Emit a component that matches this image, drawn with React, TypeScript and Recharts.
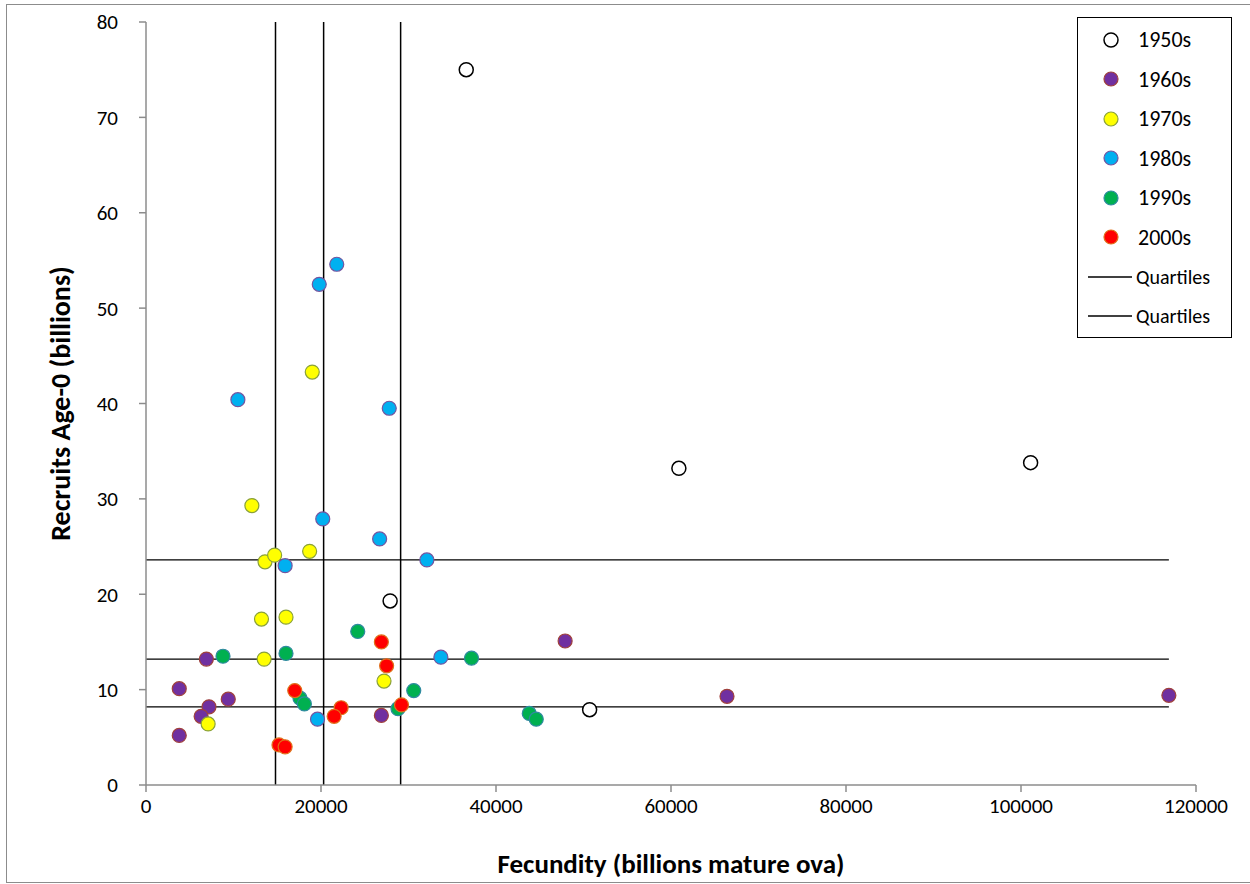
import React from "react";
import {
  ScatterChart,
  Scatter,
  XAxis,
  YAxis,
  ReferenceLine,
} from "recharts";

// fecundity (billions mature ova) vs recruits age-0 (billions), by decade
const fec1950s = [36600, 60900, 101100, 27900, 50700];
const rec1950s = [75.0, 33.2, 33.8, 19.3, 7.9];

const fec1960s = [6900, 3800, 9400, 7200, 6300, 3800, 26900, 47900, 66400, 116900];
const rec1960s = [13.2, 10.1, 9.0, 8.2, 7.2, 5.2, 7.3, 15.1, 9.3, 9.4];

const fec1970s = [13600, 14700, 18700, 13200, 16000, 13500, 7100, 27200, 19000, 12100];
const rec1970s = [23.4, 24.1, 24.5, 17.4, 17.6, 13.2, 6.4, 10.9, 43.3, 29.3];

const fec1980s = [21800, 19800, 10500, 27800, 20200, 26700, 32100, 15900, 33700, 19600];
const rec1980s = [54.6, 52.5, 40.4, 39.5, 27.9, 25.8, 23.6, 23.0, 13.4, 6.9];

const fec1990s = [8800, 16000, 17600, 18100, 24200, 30600, 37200, 28800, 43800, 44600];
const rec1990s = [13.5, 13.8, 9.1, 8.5, 16.1, 9.9, 13.3, 8.0, 7.5, 6.9];

const fec2000s = [17000, 15200, 15900, 26900, 27500, 22300, 21500, 29200];
const rec2000s = [9.9, 4.2, 4.0, 15.0, 12.5, 8.1, 7.2, 8.4];

// quartiles of recruits (horizontal) and fecundity (vertical)
const recruitQuartiles = [8.2, 13.2, 23.6];
const fecundityQuartiles = [14800, 20300, 29100];
const fecundityMax = 116900;

const xTicks = [0, 20000, 40000, 60000, 80000, 100000, 120000];
const yTicks = [0, 10, 20, 30, 40, 50, 60, 70, 80];

const zip = (xs: number[], ys: number[]) => xs.map((x, i) => ({ x, y: ys[i] }));

const SERIES = [
  { name: "1950s", data: zip(fec1950s, rec1950s), fill: "#ffffff", stroke: "#000000", sw: 1.5 },
  { name: "1960s", data: zip(fec1960s, rec1960s), fill: "#7030a0", stroke: "#a0413c", sw: 1.2 },
  { name: "1970s", data: zip(fec1970s, rec1970s), fill: "#ffff00", stroke: "#8aa13a", sw: 1.2 },
  { name: "1980s", data: zip(fec1980s, rec1980s), fill: "#00b0f0", stroke: "#7355a0", sw: 1.2 },
  { name: "1990s", data: zip(fec1990s, rec1990s), fill: "#00b050", stroke: "#2f8aa0", sw: 1.2 },
  { name: "2000s", data: zip(fec2000s, rec2000s), fill: "#ff0000", stroke: "#e0701a", sw: 1.2 },
];

const FONT = "Carlito, Calibri, 'Liberation Sans Narrow', 'DejaVu Sans Condensed', sans-serif";

function Dot(props: { cx?: number; cy?: number; fill: string; stroke: string; sw: number }) {
  const { cx, cy, fill, stroke, sw } = props;
  if (cx == null || cy == null) return null;
  return <circle cx={cx} cy={cy} r={7} fill={fill} stroke={stroke} strokeWidth={sw} />;
}

function LegendBox() {
  return (
    <div
      style={{
        position: "absolute",
        left: 1077,
        top: 17,
        border: "1.5px solid #000",
        background: "#fff",
        width: 155,
        height: 321,
        boxSizing: "border-box",
        fontFamily: FONT,
        paddingTop: 2,
      }}
    >
      {SERIES.map((s) => (
        <div key={s.name} style={{ display: "flex", alignItems: "center", height: 39.5 }}>
          <svg width={60} height={20}>
            <circle cx={33} cy={10} r={7} fill={s.fill} stroke={s.stroke} strokeWidth={s.sw} />
          </svg>
          <span style={{ fontSize: 22 }}>{s.name}</span>
        </div>
      ))}
      {[0, 1].map((k) => (
        <div key={k} style={{ display: "flex", alignItems: "center", height: 39.5 }}>
          <svg width={58} height={20}>
            <line x1={10} x2={54} y1={10} y2={10} stroke="#000" strokeWidth={1.3} />
          </svg>
          <span style={{ fontSize: 20 }}>Quartiles</span>
        </div>
      ))}
    </div>
  );
}

export default function App() {
  return (
    <div style={{ position: "absolute", left: 0, top: 0, width: 1250, height: 884, background: "#fff", overflow: "hidden" }}>
      <div
        style={{
          position: "absolute",
          left: 6,
          top: 4,
          width: 1260,
          height: 879,
          border: "1.5px solid #8c8c8c",
          boxSizing: "border-box",
        }}
      />
      <ScatterChart
        width={1250}
        height={884}
        margin={{ top: 22, right: 54, bottom: 0, left: 76 }}
        style={{ position: "absolute", left: 0, top: 0 }}
      >
        <XAxis
          type="number"
          dataKey="x"
          domain={[0, 120000]}
          ticks={xTicks}
          interval={0}
          allowDataOverflow
          stroke="#8c8c8c"
          strokeWidth={1.5}
          tickSize={7}
          tickMargin={6}
          tick={{ fontFamily: FONT, fontSize: 21, fill: "#000" }}
          label={{
            value: "Fecundity (billions mature ova)",
            position: "insideBottom",
            offset: 11,
            style: { fontFamily: FONT, fontSize: 27, fontWeight: 700, fill: "#000" },
          }}
          height={99}
        />
        <YAxis
          type="number"
          dataKey="y"
          domain={[0, 80]}
          ticks={yTicks}
          interval={0}
          stroke="#8c8c8c"
          strokeWidth={1.5}
          tickSize={7}
          tickMargin={21}
          width={70}
          tick={{ fontFamily: FONT, fontSize: 21, fill: "#000" }}
          label={{
            value: "Recruits Age-0 (billions)",
            angle: -90,
            position: "insideLeft",
            offset: -16,
            style: { fontFamily: FONT, fontSize: 28, fontWeight: 700, fill: "#000", textAnchor: "middle" },
          }}
        />
        {recruitQuartiles.map((q) => (
          <ReferenceLine
            key={"h" + q}
            segment={[
              { x: 0, y: q },
              { x: fecundityMax, y: q },
            ]}
            stroke="#000"
            strokeWidth={1.3}
          />
        ))}
        {fecundityQuartiles.map((q) => (
          <ReferenceLine key={"v" + q} x={q} stroke="#000" strokeWidth={1.5} />
        ))}
        {SERIES.map((s) => (
          <Scatter
            key={s.name}
            name={s.name}
            data={s.data}
            isAnimationActive={false}
            shape={(p: any) => <Dot cx={p.cx} cy={p.cy} fill={s.fill} stroke={s.stroke} sw={s.sw} />}
          />
        ))}
      </ScatterChart>
      <LegendBox />
    </div>
  );
}
